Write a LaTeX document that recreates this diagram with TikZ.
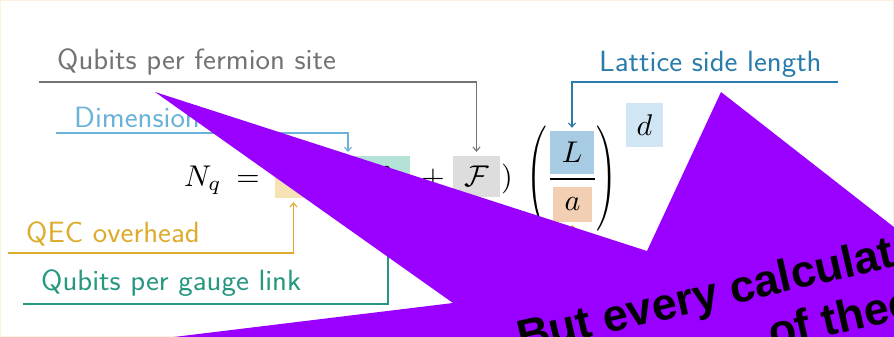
\documentclass[tikz,border=0pt]{standalone}
\usepackage{graphicx}
\usepackage{fontspec}
\newfontfamily\bubblefont{Liberation Sans}
\usetikzlibrary{arrows.meta}
\definecolor{framecol}{RGB}{252,242,222}
\definecolor{graycol}{RGB}{115,115,115}
\definecolor{dimcol}{RGB}{105,178,218}
\definecolor{latcol}{RGB}{42,124,172}
\definecolor{qeccol}{RGB}{222,172,45}
\definecolor{gaugecol}{RGB}{38,152,128}
\definecolor{spacecol}{RGB}{236,140,50}
\definecolor{cfill}{RGB}{246,226,180}
\definecolor{gfill}{RGB}{180,226,214}
\definecolor{ffill}{RGB}{221,221,221}
\definecolor{lfill}{RGB}{168,203,228}
\definecolor{afill}{RGB}{242,206,178}
\definecolor{dfill}{RGB}{208,230,245}
\definecolor{bubble}{RGB}{153,0,255}
\newcommand{\labtext}[1]{\scalebox{1.05}[1]{#1}}
\newcommand{\bigmath}[1]{\scalebox{3}{$#1$}}
\begin{document}
\begin{tikzpicture}[x=1pt,y=-1pt,
  lbl/.style={font=\sffamily\fontsize{29.3}{34}\selectfont, anchor=base west, inner sep=0pt},
  mth/.style={inner sep=0pt},
  hbox/.style={inner sep=0pt},
  arr/.style={-{Straight Barb[length=4pt,width=7pt]}, line width=1.1pt},
  bubtxt/.style={font=\bubblefont\bfseries\fontsize{45}{52}\selectfont, inner sep=0pt, text=black, anchor=base west, rotate=13}]
\useasboundingbox (0,0) rectangle (894,337);
\clip (0,0) rectangle (894,337);
\fill[white] (0,0) rectangle (894,337);
\draw[framecol, line width=2pt] (0,0) rectangle (894,337);

% equation
\node[mth, anchor=base west] (nq) at (184,186) {\bigmath{N_q}};
\node[mth, anchor=base] (eq) at (248,186) {\bigmath{=}};
\node[hbox, fill=cfill, minimum width=37pt, minimum height=43pt] (cbox) at (293.5,176.5) {\bigmath{c}};
\node[mth, anchor=base] (lp1) at (322,186) {\bigmath{(}};
\node[hbox, fill=gfill, minimum width=58pt, minimum height=42pt] (gbox) at (381,177) {\bigmath{\mathcal{B}}};
\node[mth, anchor=base] (plus) at (433,186) {\bigmath{+}};
\node[hbox, fill=ffill, minimum width=47pt, minimum height=41pt] (fbox) at (476.5,176.5) {\bigmath{\mathcal{F}}};
\node[mth, anchor=base] (rp1) at (507,186) {\bigmath{)}};
\node[mth] (lp2) at (537,179) {\scalebox{2.6}[3.5]{$\Biggl($}};
\node[mth] (rp2) at (607,179) {\scalebox{2.6}[3.5]{$\Biggr)$}};
\node[hbox, fill=lfill, minimum width=44pt, minimum height=43pt] (lbox) at (572,152.5) {\bigmath{L}};
\node[hbox, fill=afill, minimum width=39pt, minimum height=35pt] (abox) at (572.5,204.5) {\bigmath{a}};
\draw[line width=1.3pt] (550,179) -- (595,179);
\node[hbox, fill=dfill, minimum width=37pt, minimum height=44pt] (dbox) at (644.5,125) {\bigmath{d}};

% labels and leaders
\node[lbl, text=graycol] (lfer) at (57,70) {\labtext{Qubits per fermion site}};
\coordinate (lferS) at (39,82);
\draw[arr, graycol, shorten >=4pt] (lferS) -| (fbox.north);

\node[lbl, text=dimcol] (ldim) at (74,127) {\labtext{Dimension}};
\coordinate (ldimS) at (56,133);
\coordinate (dimtip) at (348,152);
\draw[arr, dimcol] (ldimS) -| (dimtip);

\node[lbl, text=qeccol] (lqec) at (26,242) {\labtext{QEC overhead}};
\coordinate (lqecS) at (8,253);
\draw[arr, qeccol, shorten >=4pt] (lqecS) -| (cbox.south);

\node[lbl, text=gaugecol] (lgau) at (41,290) {\labtext{Qubits per gauge link}};
\coordinate (lgauS) at (23,304);
\coordinate (gtip) at (388,202);
\draw[arr, gaugecol] (lgauS) -| (gtip);

\node[lbl, text=latcol] (llat) at (599,71) {\labtext{Lattice side length}};
\coordinate (llatS) at (838,82);
\draw[arr, latcol, shorten >=3pt] (llatS) -| (lbox.north);

\coordinate (spS) at (572,320);
\draw[arr, spacecol, shorten >=3pt] (spS) -- (abox.south);

% overlay bubble
\fill[bubble] (155,92) -- (647,251) -- (721,92) -- (1050,349) -- (1050,420) -- (100,420) -- (100,346) -- (453,303) -- cycle;
\node[bubtxt] (b1) at (521,353) {But every calculat};
\node[bubtxt] (b2) at (772,349) {of theo};
\end{tikzpicture}
\end{document}
